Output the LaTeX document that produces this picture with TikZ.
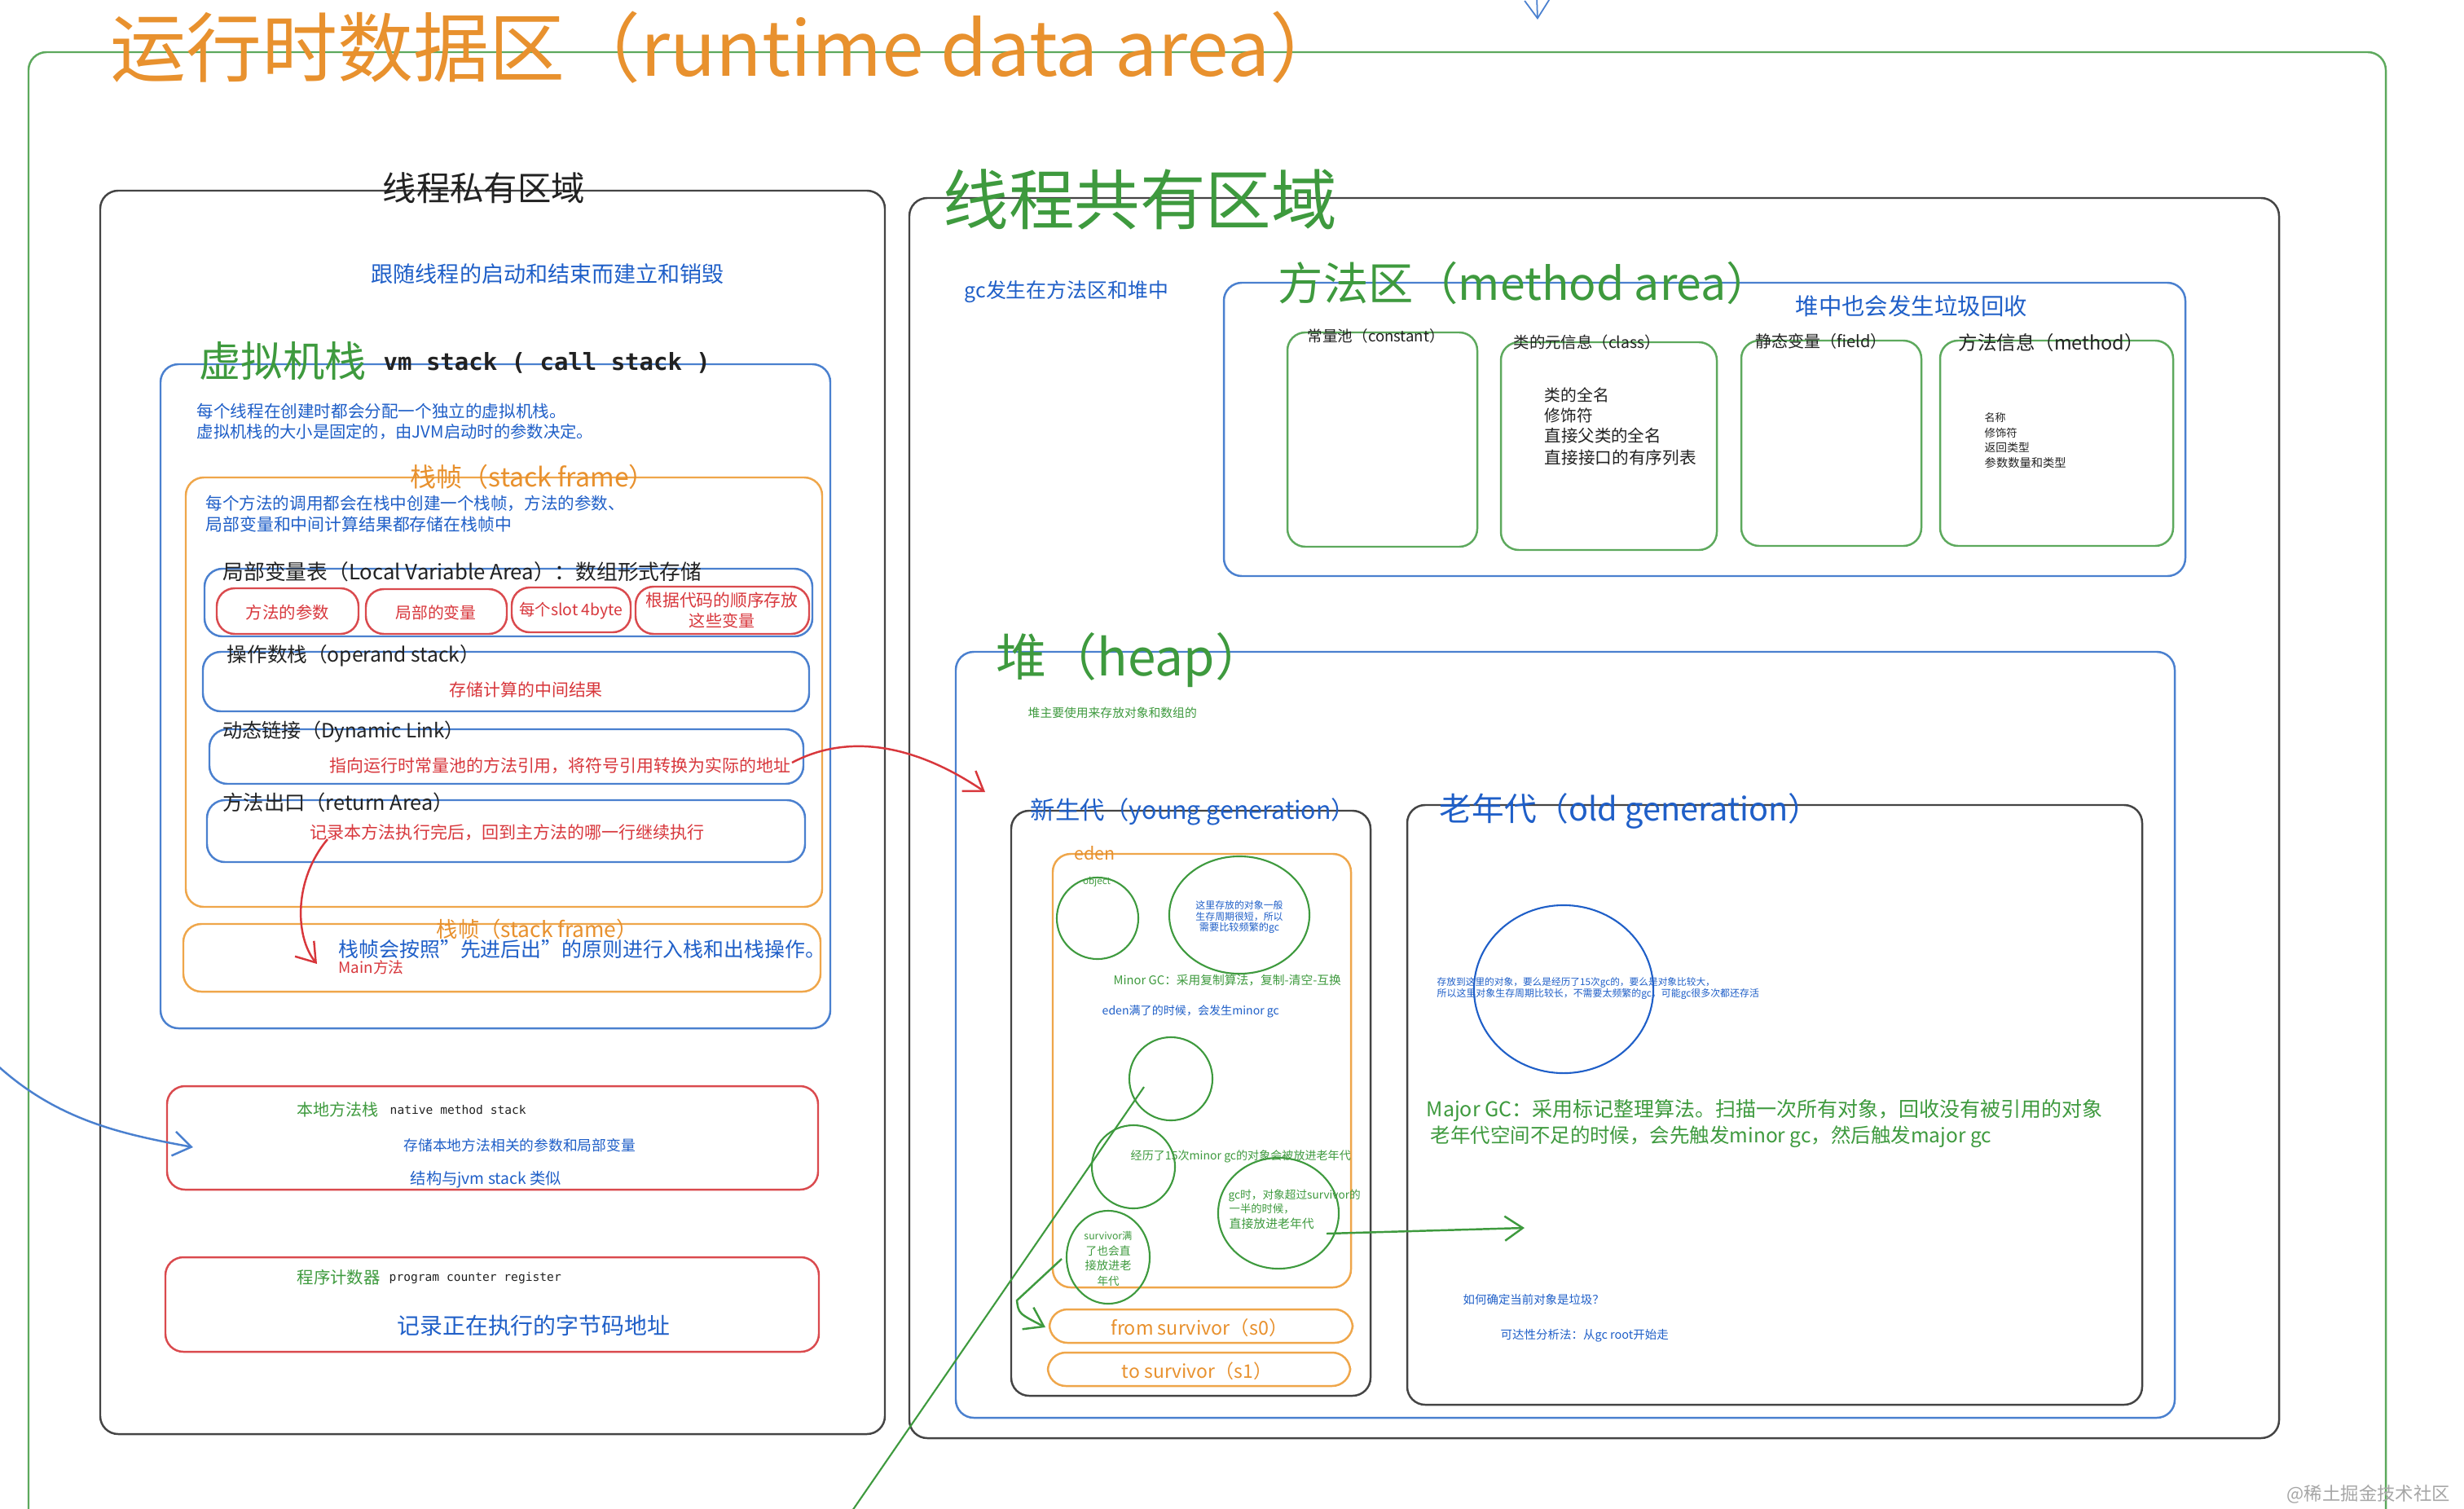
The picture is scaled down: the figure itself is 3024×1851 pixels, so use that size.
\documentclass[tikz,border=0pt]{standalone}
\usepackage{fontspec}
\setmainfont{Noto Sans CJK SC}
\setmonofont{DejaVu Sans Mono}
\usetikzlibrary{arrows.meta,fit,shapes.geometric}
\definecolor{cOr}{HTML}{E8912E}
\definecolor{cOrL}{HTML}{EFA64A}
\definecolor{cGr}{HTML}{3E9A3E}
\definecolor{cGrL}{HTML}{5DA95D}
\definecolor{cBl}{HTML}{1F5FC8}
\definecolor{cBlL}{HTML}{4A80CF}
\definecolor{cRd}{HTML}{D8373C}
\definecolor{cRdL}{HTML}{DA4A4E}
\definecolor{cBk}{HTML}{222222}
\definecolor{cGy}{HTML}{444444}
\newcommand{\fitw}[2]{\resizebox{#1cm}{!}{#2}}
\begin{document}
\begin{tikzpicture}[x=0.01cm,y=-0.01cm,
  box/.style={draw, rounded corners=0.22cm, line width=0.7pt, inner sep=0pt},
  t/.style={inner sep=0pt, anchor=west},
  tc/.style={inner sep=0pt, anchor=center},
  circ/.style={draw, ellipse, inner sep=0pt, line width=0.6pt},
  arr/.style={line width=0.7pt, -{Straight Barb[length=0.22cm,width=0.3cm]}},
]
\useasboundingbox (0,0) rectangle (3024,1851);
\fill[white] (0,0) rectangle (3024,1851);

% ---------- boxes ----------
\node[box, draw=cGrL, fit={(35,64)(2928,1990)}] (outer) {};
\node[box, draw=cGy, fit={(123,234)(1086,1760)}] (priv) {};
\node[box, draw=cGy, fit={(1116,243)(2797,1765)}] (shared) {};
\node[box, draw=cBlL, fit={(197,447)(1019,1262)}] (vm) {};
\node[box, draw=cOrL, fit={(228,586)(1009,1113)}] (sf1) {};
\node[box, draw=cBlL, fit={(251,698)(997,781)}] (lv) {};
\node[box, draw=cRdL, fit={(266,722)(440,778)}] (r1) {};
\node[box, draw=cRdL, fit={(449,723)(622,778)}] (r2) {};
\node[box, draw=cRdL, fit={(628,721)(774,776)}] (r3) {};
\node[box, draw=cRdL, fit={(780,720)(993,778)}] (r4) {};
\node[box, draw=cBlL, fit={(249,800)(993,873)}] (op) {};
\node[box, draw=cBlL, fit={(257,895)(986,962)}] (dl) {};
\node[box, draw=cBlL, fit={(254,982)(988,1058)}] (ra) {};
\node[box, draw=cOrL, fit={(225,1134)(1007,1217)}] (sf2) {};
\node[box, draw=cRdL, fit={(205,1333)(1004,1460)}] (native) {};
\node[box, draw=cRdL, fit={(203,1543)(1005,1659)}] (pc) {};
\node[box, draw=cBlL, fit={(1502,347)(2682,707)}] (ma) {};
\node[box, draw=cGrL, fit={(1580,408)(1813,671)}] (cp) {};
\node[box, draw=cGrL, fit={(1842,420)(2107,675)}] (cl) {};
\node[box, draw=cGrL, fit={(2137,418)(2358,670)}] (fd) {};
\node[box, draw=cGrL, fit={(2381,418)(2667,670)}] (mt) {};
\node[box, draw=cBlL, fit={(1173,800)(2669,1740)}] (heap) {};
\node[box, draw=cGy, fit={(1241,995)(1682,1713)}] (young) {};
\node[box, draw=cOrL, fit={(1292,1048)(1658,1580)}] (eden) {};
\node[box, draw=cOrL, fit={(1288,1607)(1660,1648)}] (fromS) {};
\node[box, draw=cOrL, fit={(1286,1660)(1657,1701)}] (toS) {};
\node[box, draw=cGy, fit={(1727,988)(2629,1724)}] (old) {};

% ---------- circles ----------
\node[circ, draw=cGr, minimum width=1.00cm, minimum height=1.00cm] (objC) at (1347,1127) {};
\node[circ, draw=cGr, minimum width=1.72cm, minimum height=1.44cm] (bigC) at (1521,1123) {};
\node[circ, draw=cGr, minimum width=1.02cm, minimum height=1.02cm] (cA) at (1437,1324) {};
\node[circ, draw=cGr, minimum width=1.02cm, minimum height=1.02cm] (cB) at (1391,1432) {};
\node[circ, draw=cGr, minimum width=1.48cm, minimum height=1.36cm] (cC) at (1569,1489) {};
\node[circ, draw=cGr, minimum width=1.02cm, minimum height=1.14cm] (cD) at (1360,1543) {};
\node[circ, draw=cBl, minimum width=2.20cm, minimum height=2.06cm] (oldC) at (1919,1214) {};

% ---------- texts ----------
\node[t, text=cOr] (title) at (135,58) {\fitw{15.15}{运行时数据区（runtime data area）}};
\node[t, text=cBk] (privT) at (469,231) {\fitw{2.48}{线程私有区域}};
\node[t, text=cGr] (sharedT) at (1157,245) {\fitw{4.83}{线程共有区域}};
\node[t, text=cBl] (privN) at (455,336) {\fitw{4.33}{跟随线程的启动和结束而建立和销毁}};
\node[t, text=cGr] (vmT1) at (244,443) {\fitw{2.05}{虚拟机栈}};
\node[t, text=cBk] (vmT2) at (470,445) {\fitw{4.01}{\ttfamily\bfseries vm stack ( call stack )}};
\node[t, text=cBl] (vmN1) at (241,505) {\fitw{4.53}{每个线程在创建时都会分配一个独立的虚拟机栈。}};
\node[t, text=cBl] (vmN2) at (241,530) {\fitw{4.86}{虚拟机栈的大小是固定的，由JVM启动时的参数决定。}};
\node[t, text=cOr] (sf1T) at (503,585) {\fitw{3.00}{栈帧（stack frame）}};
\node[t, text=cBl] (sfN1) at (252,618) {\fitw{5.14}{每个方法的调用都会在栈中创建一个栈帧，方法的参数、}};
\node[t, text=cBl] (sfN2) at (252,643) {\fitw{3.75}{局部变量和中间计算结果都存储在栈帧中}};
\node[t, text=cBk] (lvT) at (273,702) {\fitw{5.87}{局部变量表（Local Variable Area）：数组形式存储}};
\node[tc, text=cRd] (r1T) at (353,752) {\fitw{1.02}{方法的参数}};
\node[tc, text=cRd] (r2T) at (535,752) {\fitw{0.99}{局部的变量}};
\node[tc, text=cRd] (r3T) at (701,750) {\fitw{1.27}{每个slot 4byte}};
\node[tc, text=cRd] (r4T1) at (886,737) {\fitw{1.87}{根据代码的顺序存放}};
\node[tc, text=cRd] (r4T2) at (886,762) {\fitw{0.80}{这些变量}};
\node[t, text=cBk] (opT) at (278,805) {\fitw{3.10}{操作数栈（operand stack）}};
\node[t, text=cRd] (opN) at (551,847) {\fitw{1.88}{存储计算的中间结果}};
\node[t, text=cBk] (dlT) at (273,898) {\fitw{2.96}{动态链接（Dynamic Link）}};
\node[t, text=cRd] (dlN) at (404,940) {\fitw{5.65}{指向运行时常量池的方法引用，将符号引用转换为实际的地址}};
\node[t, text=cBk] (raT) at (273,985) {\fitw{2.83}{方法出口（return Area）}};
\node[t, text=cRd] (raN) at (380,1022) {\fitw{4.84}{记录本方法执行完后，回到主方法的哪一行继续执行}};
\node[t, text=cOr] (sf2T) at (535,1140) {\fitw{2.47}{栈帧（stack frame）}};
\node[t, text=cBl] (sf2N) at (415,1165) {\fitw{5.97}{栈帧会按照"先进后出"的原则进行入栈和出栈操作。}};
\node[t, text=cRd] (mainT) at (415,1187) {\fitw{0.80}{Main方法}};
\node[t, text=cGr] (nmT1) at (364,1362) {\fitw{1.00}{本地方法栈}};
\node[t, text=cBk] (nmT2) at (478,1362) {\fitw{1.67}{\ttfamily native method stack}};
\node[t, text=cBl] (nmN1) at (495,1406) {\fitw{2.84}{存储本地方法相关的参数和局部变量}};
\node[t, text=cBl] (nmN2) at (503,1448) {\fitw{1.85}{结构与jvm stack 类似}};
\node[t, text=cGr] (pcT1) at (364,1568) {\fitw{1.02}{程序计数器}};
\node[t, text=cBk] (pcT2) at (477,1568) {\fitw{2.11}{\ttfamily program counter register}};
\node[t, text=cBl] (pcN) at (487,1627) {\fitw{3.34}{记录正在执行的字节码地址}};
\node[t, text=cBl] (gcT) at (1183,358) {\fitw{2.50}{gc发生在方法区和堆中}};
\node[t, text=cGr] (maT) at (1568,347) {\fitw{6.05}{方法区（method area）}};
\node[t, text=cBl] (maN) at (2203,376) {\fitw{2.84}{堆中也会发生垃圾回收}};
\node[t, text=cBk] (cpT) at (1604,412) {\fitw{1.68}{常量池（constant）}};
\node[t, text=cBk] (clT) at (1857,420) {\fitw{1.80}{类的元信息（class）}};
\node[t, text=cBk] (cl1) at (1895,485) {\fitw{0.79}{类的全名}};
\node[t, text=cBk] (cl2) at (1895,510) {\fitw{0.59}{修饰符}};
\node[t, text=cBk] (cl3) at (1895,535) {\fitw{1.43}{直接父类的全名}};
\node[t, text=cBk] (cl4) at (1895,562) {\fitw{1.86}{直接接口的有序列表}};
\node[t, text=cBk] (fdT) at (2154,419) {\fitw{1.61}{静态变量（field）}};
\node[t, text=cBk] (mtT) at (2403,421) {\fitw{2.27}{方法信息（method）}};
\node[t, text=cBk] (mt1) at (2435,513) {\fitw{0.26}{名称}};
\node[t, text=cBk] (mt2) at (2435,531) {\fitw{0.40}{修饰符}};
\node[t, text=cBk] (mt3) at (2435,549) {\fitw{0.55}{返回类型}};
\node[t, text=cBk] (mt4) at (2435,568) {\fitw{1.00}{参数数量和类型}};
\node[t, text=cGr] (heapT) at (1222,810) {\fitw{3.30}{堆（heap）}};
\node[t, text=cGr] (heapN) at (1261,875) {\fitw{2.07}{堆主要使用来存放对象和数组的}};
\node[t, text=cBl] (youngT) at (1264,996) {\fitw{3.99}{新生代（young generation）}};
\node[t, text=cOr] (edenT) at (1318,1047) {\fitw{0.50}{eden}};
\node[tc, text=cGr] (objT) at (1346,1082) {\fitw{0.34}{object}};
\node[tc, text=cBl] (big1) at (1521,1111) {\fitw{1.07}{这里存放的对象一般}};
\node[tc, text=cBl] (big2) at (1521,1125) {\fitw{1.07}{生存周期很短，所以}};
\node[tc, text=cBl] (big3) at (1521,1139) {\fitw{0.98}{需要比较频繁的gc}};
\node[t, text=cGr] (minorT) at (1366,1203) {\fitw{2.79}{Minor GC：采用复制算法，复制-清空-互换}};
\node[t, text=cBl] (edenN) at (1352,1241) {\fitw{2.17}{eden满了的时候，会发生minor gc}};
\node[t, text=cGr] (e15) at (1387,1419) {\fitw{2.70}{经历了15次minor gc的对象会被放进老年代}};
\node[t, text=cGr] (cC1) at (1507,1467) {\fitw{1.62}{gc时，对象超过survivor的}};
\node[t, text=cGr] (cC2) at (1508,1484) {\fitw{0.80}{一半的时候，}};
\node[t, text=cGr] (cC3) at (1508,1502) {\fitw{1.04}{直接放进老年代}};
\node[tc, text=cGr] (cD1) at (1360,1517) {\fitw{0.59}{survivor满}};
\node[tc, text=cGr] (cD2) at (1360,1535) {\fitw{0.55}{了也会直}};
\node[tc, text=cGr] (cD3) at (1360,1553) {\fitw{0.57}{接放进老}};
\node[tc, text=cGr] (cD4) at (1360,1572) {\fitw{0.27}{年代}};
\node[tc, text=cOr] (fromT) at (1472,1630) {\fitw{2.17}{from survivor（s0）}};
\node[tc, text=cOr] (toT) at (1469,1683) {\fitw{1.84}{to survivor（s1）}};
\node[t, text=cBl] (oldT) at (1766,995) {\fitw{4.67}{老年代（old generation）}};
\node[t, text=cBl] (oldN1) at (1763,1206) {\fitw{3.41}{存放到这里的对象，要么是经历了15次gc的，要么是对象比较大，}};
\node[t, text=cBl] (oldN2) at (1763,1220) {\fitw{3.95}{所以这里对象生存周期比较长，不需要太频繁的gc，可能gc很多次都还存活}};
\node[t, text=cGr] (major1) at (1750,1363) {\fitw{8.29}{Major GC：采用标记整理算法。扫描一次所有对象，回收没有被引用的对象}};
\node[t, text=cGr] (major2) at (1755,1395) {\fitw{6.88}{老年代空间不足的时候，会先触发minor gc，然后触发major gc}};
\node[t, text=cBl] (q1) at (1795,1595) {\fitw{1.73}{如何确定当前对象是垃圾？}};
\node[t, text=cBl] (q2) at (1841,1639) {\fitw{2.06}{可达性分析法：从gc root开始走}};
\node[t, text=black!35] (wm) at (2806,1834) {\fitw{2.00}{@稀土掘金技术社区}};

% ---------- connectors ----------
\coordinate (topS) at (1886,-4);
\coordinate (topE) at (1887,24);
\draw[arr, cBlL, line width=0.5pt] (topS) -- (topE);

\coordinate (leftS) at (-5,1306);
\coordinate (nativeE) at (237,1408);
\draw[arr, cBlL] (leftS) .. controls (70,1375) and (150,1392) .. (nativeE);

\coordinate (dlS) at (972,936);
\coordinate (youngE) at (1209,972);
\draw[arr, cRd] (dlS) .. controls (1030,905) and (1110,905) .. (youngE);

\coordinate (raS) at (402,1030);
\coordinate (mainE) at (389,1183);
\draw[arr, cRd] (raS) .. controls (360,1080) and (362,1150) .. (mainE);

\coordinate (cAin) at (1404,1334);
\coordinate (offB) at (1035,1870);
\draw[cGr, line width=0.6pt] (cAin) -- (offB);

\coordinate (cDs) at (1303,1545);
\coordinate (bend) at (1248,1596);
\coordinate (fromE) at (1283,1629);
\draw[arr, cGr] (cDs) -- (bend) .. controls (1250,1612) .. (fromE);

\coordinate (cCs) at (1628,1514);
\coordinate (oldE) at (1871,1507);
\draw[arr, cGr] (cCs) -- (oldE);
\end{tikzpicture}
\end{document}
